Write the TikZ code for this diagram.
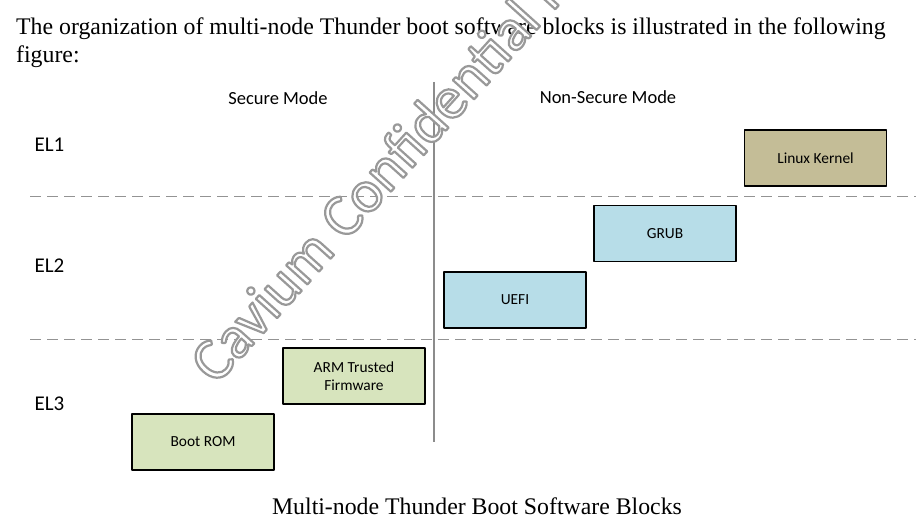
\documentclass[tikz,border=0pt]{standalone}
\usepackage{fontspec}
\setmainfont{Liberation Serif}
\newfontfamily\calibri{Carlito}
\usetikzlibrary{positioning}
\definecolor{kernelc}{HTML}{C4BD97}
\definecolor{bluec}{HTML}{B7DDE8}
\definecolor{greenc}{HTML}{D7E4BD}
\tikzset{
  blk/.style={draw=black,line width=1.5pt,minimum width=142pt,minimum height=56pt,
    inner sep=0pt,align=center,font=\calibri\fontsize{15.4}{18.5}\selectfont},
  elevel/.style={anchor=west,font=\calibri\fontsize{21}{24}\selectfont},
  modetxt/.style={font=\calibri\fontsize{18.5}{22}\selectfont},
  sep/.style={draw=gray!85,line width=0.8pt,dash pattern=on 11pt off 6pt}
}
% chu rong net
\newcommand{\outlinetxt}[1]{\special{pdf:literal direct 2 Tr 2.2 w 0.6 G}#1\special{pdf:literal direct 0 Tr 0 G}}
\begin{document}
\begin{tikzpicture}[x=1pt,y=-1pt,line join=round]
			\useasboundingbox (0,0) rectangle (920,529);
			\def\ya{196} % ranh gioi EL1/EL2
			\def\yb{339} % ranh gioi EL2/EL3
			\path
			(30,\ya) coordinate (L1)
			(916,\ya) coordinate (R1)
			(30,\yb) coordinate (L2)
			(916,\yb) coordinate (R2)
			(434,82) coordinate (T)
			(434,442) coordinate (B);
			% doan van
			\node[anchor=base west,inner sep=0pt,font=\fontsize{23.8}{28}\selectfont] (para1) at (16,35)
			{The organization of multi-node Thunder boot software blocks is illustrated in the following};
			\node[anchor=base west,inner sep=0pt,font=\fontsize{23.8}{28}\selectfont] (para2) at (16,63) {figure:};
			% cac duong chia
			\draw[sep] (L1)--(R1) (L2)--(R2);
			\draw[gray!90,line width=1.1pt] (T)--(B);
			% nhan
			\node[modetxt] (sec) at (278,98) {Secure Mode};
			\node[modetxt] (nsec) at (608,97) {Non-Secure Mode};
			\node[elevel] (el1) at (31,145) {EL1};
			\node[elevel] (el2) at (31,266) {EL2};
			\node[elevel] (el3) at (31,404) {EL3};
			% cac khoi
			\node[blk,fill=kernelc] (linux) at (815.5,158) {Linux Kernel};
			\node[blk,fill=bluec] (grub) at (665,233.5) {GRUB};
			\node[blk,fill=bluec] (uefi) at (515,300) {UEFI};
			\node[blk,fill=greenc] (atf) at (354,376) {ARM Trusted\\Firmware};
			\node[blk,fill=greenc] (brom) at (203,442) {Boot ROM};
			% chu thich
			\node[font=\fontsize{23.8}{28}\selectfont] (cap) at (477,506) {Multi-node Thunder Boot Software Blocks};
			% dau chim
			\begin{scope}
				\clip (0,0) rectangle (920,529);
				\node[anchor=base west,inner sep=0pt,rotate=48,text=white,
				font=\calibri\fontsize{60}{70}\selectfont] (wm) at (216,386) {\outlinetxt{Cavium Confidential fo}};
			\end{scope}
		\end{tikzpicture}
\end{document}
